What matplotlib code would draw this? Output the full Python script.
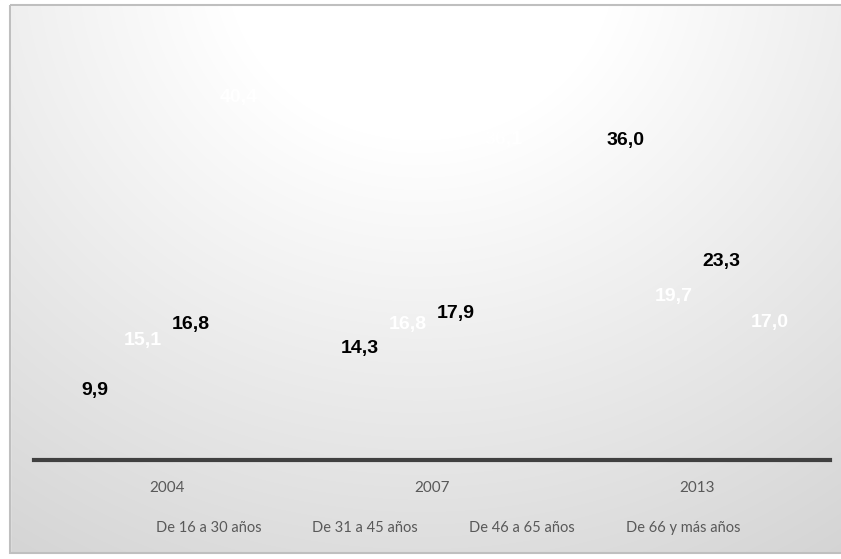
import numpy as np
import matplotlib
matplotlib.use("Agg")
import matplotlib.pyplot as plt
from matplotlib.patches import Rectangle, Patch

# data
years = ["2004", "2007", "2013"]
groups = ["De 16 a 30 años", "De 31 a 45 años", "De 46 a 65 años", "De 66 y más años"]
g1 = [9.9, 14.3, 36.0]
g2 = [15.1, 16.8, 19.7]
g3 = [16.8, 17.9, 23.3]
g4 = [40.4, 36.1, 17.0]
series = [g1, g2, g3, g4]
label_colors = ["black", "white", "black", "white"]

W, H = 841, 559
fig = plt.figure(figsize=(W / 100, H / 100), dpi=100)

# radial grey background, white at top centre
yy, xx = np.mgrid[0:H, 0:W]
rr = np.sqrt(((xx - 420.0) / 650) ** 2 + ((yy + 40.0) / 600) ** 2)
shade = 1 - 0.19 * np.clip(rr - 0.3, 0, None)
shade = np.clip(shade, 0.82, 1)
bg = fig.add_axes([0, 0, 1, 1])
bg.imshow(np.dstack([shade] * 3), extent=[0, W, H, 0], aspect="auto")
bg.add_patch(Rectangle((0, 0), 10, H, color="white"))
bg.add_patch(Rectangle((0, 0), W, 5, color="white"))
bg.add_patch(Rectangle((0, 553), W, 6, color="white"))
bg.add_patch(Rectangle((10, 5), W, 548, fill=False, edgecolor="#bfbfbf", lw=1.5))
bg.set_xlim(0, W)
bg.set_ylim(H, 0)
bg.axis("off")

ax = fig.add_axes([34 / W, 1 - 460 / H, (830 - 34) / W, 45 * 9.58 / H])
ax.patch.set_alpha(0)
x = np.arange(len(years))
w = 0.181
for i, vals in enumerate(series):
    pos = x + (i - 1.5) * w
    ax.bar(pos, vals, w, color="none")
    for px, v in zip(pos, vals):
        ax.annotate(f"{v:.1f}".replace(".", ","), (px, v), xytext=(0, -18),
                    textcoords="offset points", ha="center", va="center",
                    fontsize=14, fontweight="bold", color=label_colors[i],
                    family="Liberation Sans")

ax.set_xlim(-0.5, 2.5)
ax.set_ylim(0, 45)
for s in ["top", "right", "left"]:
    ax.spines[s].set_visible(False)
ax.spines["bottom"].set_color("#404040")
ax.spines["bottom"].set_linewidth(3)
ax.set_yticks([])
ax.set_xticks(x)
ax.set_xticklabels(years, fontsize=11, color="#595959", family="Lato")
ax.tick_params(axis="x", length=0, pad=15)

handles = [Patch(facecolor="none", edgecolor="none") for _ in groups]
leg = fig.legend(handles, groups, loc="center", ncol=4, frameon=False,
                 bbox_to_anchor=(440 / W, 1 - 528 / H), handlelength=0.6,
                 handleheight=0.6, handletextpad=0.5, columnspacing=2.4,
                 prop={"family": "Lato", "size": 10.5})
for t in leg.get_texts():
    t.set_color("#595959")

fig.savefig("out.png", dpi=100)
